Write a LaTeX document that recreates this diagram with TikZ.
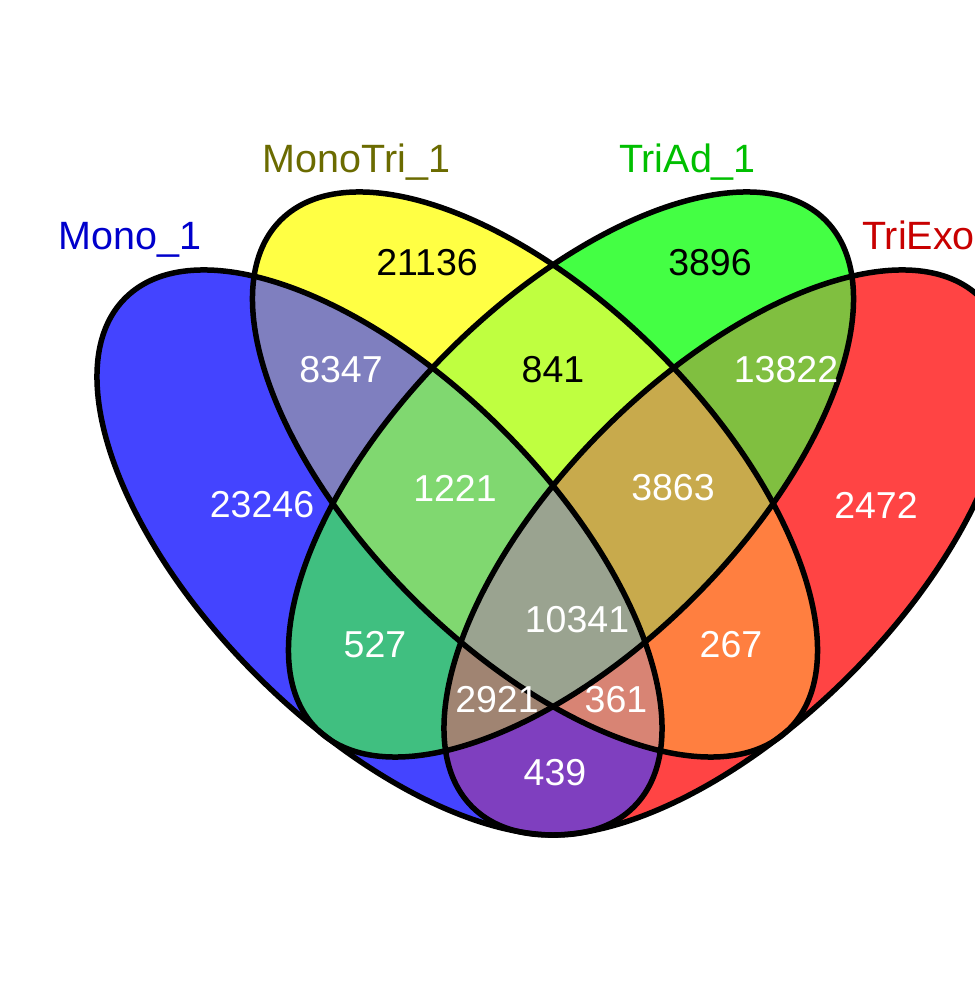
\documentclass[tikz,border=0pt]{standalone}
\usepackage{fontspec}
\setmainfont{Liberation Sans}
\definecolor{cB}{HTML}{4444FF}
\definecolor{cY}{HTML}{FFFF44}
\definecolor{cG}{HTML}{44FF44}
\definecolor{cR}{HTML}{FF4444}
\definecolor{cBY}{HTML}{7F7FBF}
\definecolor{cYG}{HTML}{BFFF40}
\definecolor{cGR}{HTML}{80BF40}
\definecolor{cBG}{HTML}{40BF80}
\definecolor{cYR}{HTML}{FF7F40}
\definecolor{cBR}{HTML}{7F3FBF}
\definecolor{cBYG}{HTML}{80D870}
\definecolor{cYGR}{HTML}{C8AA4C}
\definecolor{cBGR}{HTML}{A08472}
\definecolor{cBYR}{HTML}{D88474}
\definecolor{cBYGR}{HTML}{9AA390}
\definecolor{lB}{HTML}{0000CC}
\definecolor{lY}{HTML}{6B6B00}
\definecolor{lG}{HTML}{00BF00}
\definecolor{lR}{HTML}{C80000}
\begin{document}
\begin{tikzpicture}[x=1pt,y=1pt,
  eB/.style={shift={(379.5,449.5)},rotate=-45},
  eY/.style={shift={(535,527.5)},rotate=-45},
  eG/.style={shift={(571,527.5)},rotate=45},
  eR/.style={shift={(726.5,449.5)},rotate=45},
  outline/.style={draw=black,line width=5.5pt},
  num/.style={font=\fontsize{37.5}{42}\selectfont,text=white,inner sep=0pt},
  numk/.style={num,text=black},
  setlab/.style={font=\fontsize{39.5}{44}\selectfont,inner sep=0pt,anchor=base}]
\useasboundingbox (0,0) rectangle (975,1002);
\clip (0,0) rectangle (975,1002);
\fill[white] (0,0) rectangle (975,1002);
% single sets
\fill[cB,eB] (0,0) ellipse [x radius=359.7,y radius=173.8];
\fill[cY,eY] (0,0) ellipse [x radius=359.7,y radius=173.8];
\fill[cG,eG] (0,0) ellipse [x radius=359.7,y radius=173.8];
\fill[cR,eR] (0,0) ellipse [x radius=359.7,y radius=173.8];
% pairs
\begin{scope}\clip[eB] (0,0) ellipse [x radius=359.7,y radius=173.8];
\fill[cBY,eY] (0,0) ellipse [x radius=359.7,y radius=173.8];\end{scope}
\begin{scope}\clip[eB] (0,0) ellipse [x radius=359.7,y radius=173.8];
\fill[cBG,eG] (0,0) ellipse [x radius=359.7,y radius=173.8];\end{scope}
\begin{scope}\clip[eB] (0,0) ellipse [x radius=359.7,y radius=173.8];
\fill[cBR,eR] (0,0) ellipse [x radius=359.7,y radius=173.8];\end{scope}
\begin{scope}\clip[eY] (0,0) ellipse [x radius=359.7,y radius=173.8];
\fill[cYG,eG] (0,0) ellipse [x radius=359.7,y radius=173.8];\end{scope}
\begin{scope}\clip[eY] (0,0) ellipse [x radius=359.7,y radius=173.8];
\fill[cYR,eR] (0,0) ellipse [x radius=359.7,y radius=173.8];\end{scope}
\begin{scope}\clip[eG] (0,0) ellipse [x radius=359.7,y radius=173.8];
\fill[cGR,eR] (0,0) ellipse [x radius=359.7,y radius=173.8];\end{scope}
% triples
\begin{scope}\clip[eB] (0,0) ellipse [x radius=359.7,y radius=173.8];
\clip[eY] (0,0) ellipse [x radius=359.7,y radius=173.8];
\fill[cBYG,eG] (0,0) ellipse [x radius=359.7,y radius=173.8];\end{scope}
\begin{scope}\clip[eB] (0,0) ellipse [x radius=359.7,y radius=173.8];
\clip[eY] (0,0) ellipse [x radius=359.7,y radius=173.8];
\fill[cBYR,eR] (0,0) ellipse [x radius=359.7,y radius=173.8];\end{scope}
\begin{scope}\clip[eB] (0,0) ellipse [x radius=359.7,y radius=173.8];
\clip[eG] (0,0) ellipse [x radius=359.7,y radius=173.8];
\fill[cBGR,eR] (0,0) ellipse [x radius=359.7,y radius=173.8];\end{scope}
\begin{scope}\clip[eY] (0,0) ellipse [x radius=359.7,y radius=173.8];
\clip[eG] (0,0) ellipse [x radius=359.7,y radius=173.8];
\fill[cYGR,eR] (0,0) ellipse [x radius=359.7,y radius=173.8];\end{scope}
% quadruple
\begin{scope}\clip[eB] (0,0) ellipse [x radius=359.7,y radius=173.8];
\clip[eY] (0,0) ellipse [x radius=359.7,y radius=173.8];
\clip[eG] (0,0) ellipse [x radius=359.7,y radius=173.8];
\fill[cBYGR,eR] (0,0) ellipse [x radius=359.7,y radius=173.8];\end{scope}
% outlines
\draw[outline,eB] (0,0) ellipse [x radius=359.7,y radius=173.8];
\draw[outline,eY] (0,0) ellipse [x radius=359.7,y radius=173.8];
\draw[outline,eG] (0,0) ellipse [x radius=359.7,y radius=173.8];
\draw[outline,eR] (0,0) ellipse [x radius=359.7,y radius=173.8];
% counts
\node[numk] (n21136) at (427,739) {21136};
\node[numk] (n3896) at (710,739) {3896};
\node[num] (n8347) at (341,632) {8347};
\node[numk] (n841) at (553,632) {841};
\node[num] (n13822) at (786,632) {13822};
\node[num] (n23246) at (262,497) {23246};
\node[num] (n1221) at (455,514) {1221};
\node[num] (n3863) at (673,514) {3863};
\node[num] (n2472) at (876,497) {2472};
\node[num] (n10341) at (577,382) {10341};
\node[num] (n527) at (375,357) {527};
\node[num] (n267) at (731,357) {267};
\node[num] (n2921) at (497,302) {2921};
\node[num] (n361) at (616,302) {361};
\node[num] (n439) at (555,229) {439};
% set labels
\node[setlab,text=lB] (lMono) at (130,752) {Mono\_1};
\node[setlab,text=lY] (lMonoTri) at (356.5,829) {MonoTri\_1};
\node[setlab,text=lG] (lTriAd) at (687.5,829) {TriAd\_1};
\node[setlab,text=lR,anchor=base west] (lTriExo) at (862,752) {TriExo};
\end{tikzpicture}
\end{document}
